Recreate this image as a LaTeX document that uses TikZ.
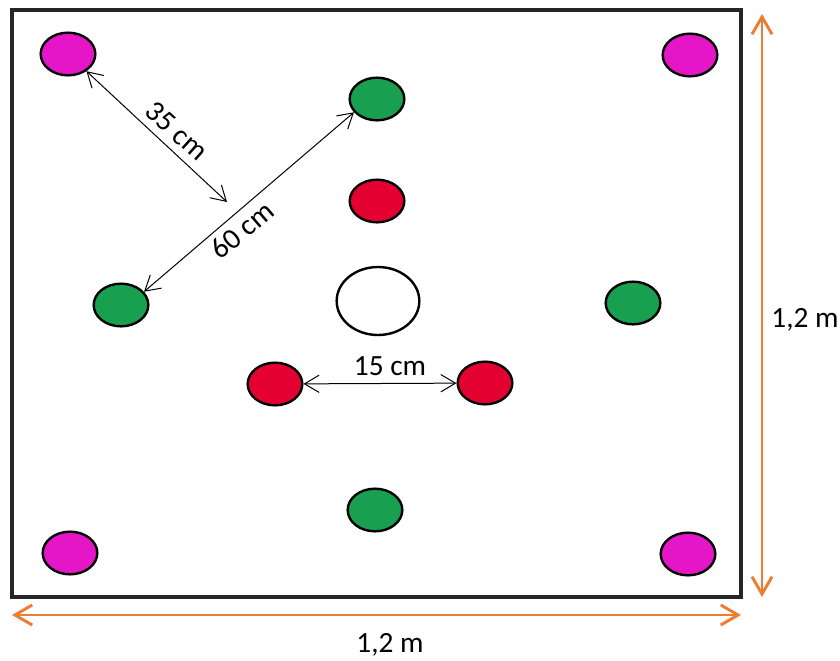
\documentclass[tikz,border=0pt]{standalone}
\usepackage{fontspec}
\setmainfont{Carlito}
\usetikzlibrary{shapes.geometric,arrows.meta}
\definecolor{pinkc}{RGB}{228,22,200}
\definecolor{greenc}{RGB}{24,160,80}
\definecolor{redc}{RGB}{228,0,48}
\definecolor{orangec}{RGB}{237,125,49}
\tikzset{
  plant/.style={ellipse,draw=black,line width=1.8pt,inner sep=0pt,minimum width=41pt,minimum height=32pt},
  pinkp/.style={plant,fill=pinkc},
  greenp/.style={plant,fill=greenc},
  redp/.style={plant,fill=redc},
  holep/.style={plant,fill=white,minimum width=62pt,minimum height=51pt},
  dim/.style={draw=black,line width=0.75pt,{Straight Barb[length=11pt,width=13pt]}-{Straight Barb[length=11pt,width=13pt]}},
  odim/.style={draw=orangec,line width=2.2pt,{Straight Barb[length=13pt,width=15pt]}-{Straight Barb[length=13pt,width=15pt]}},
  lbl/.style={font=\fontsize{22pt}{26pt}\selectfont,inner sep=0pt}
}
\begin{document}
\begin{tikzpicture}[x=0.75pt,y=-0.75pt]
\useasboundingbox (0,0) rectangle (840,661);
\draw[line width=2.3pt,draw=black!85] (12,10) rectangle (741,597);
% plants
\node[pinkp] (m1) at (68,54) {};
\node[pinkp] (m2) at (690,55) {};
\node[pinkp] (m3) at (70,553) {};
\node[pinkp] (m4) at (688,554) {};
\node[greenp] (g1) at (377,99) {};
\node[greenp] (g2) at (121,305) {};
\node[greenp] (g3) at (633,303) {};
\node[greenp] (g4) at (375,510) {};
\node[redp] (r1) at (377,201) {};
\node[redp] (r2) at (275,384) {};
\node[redp] (r3) at (485,383) {};
\node[holep] (h) at (378,301) {};
% dimension arrows
\coordinate (c35) at (227,202);
\draw[dim] (m1) -- (c35);
\node[lbl,rotate=-42] (t35) at (177,131) {35 cm};
\draw[dim] (g2.30) -- (g1.210);
\node[lbl,rotate=40.6] (t60) at (242,230) {60 cm};
\draw[dim] (r2) -- (r3);
\node[lbl] (t15) at (390,366) {15 cm};
% outer dimensions
\coordinate (vt) at (762,14);
\coordinate (vb) at (762,597);
\coordinate (hl) at (12,615);
\coordinate (hr) at (741,615);
\draw[odim] (vt) -- (vb);
\draw[odim] (hl) -- (hr);
\node[lbl] (tv) at (805,320) {1,2 m};
\node[lbl] (th) at (390,645) {1,2 m};
\end{tikzpicture}
\end{document}
